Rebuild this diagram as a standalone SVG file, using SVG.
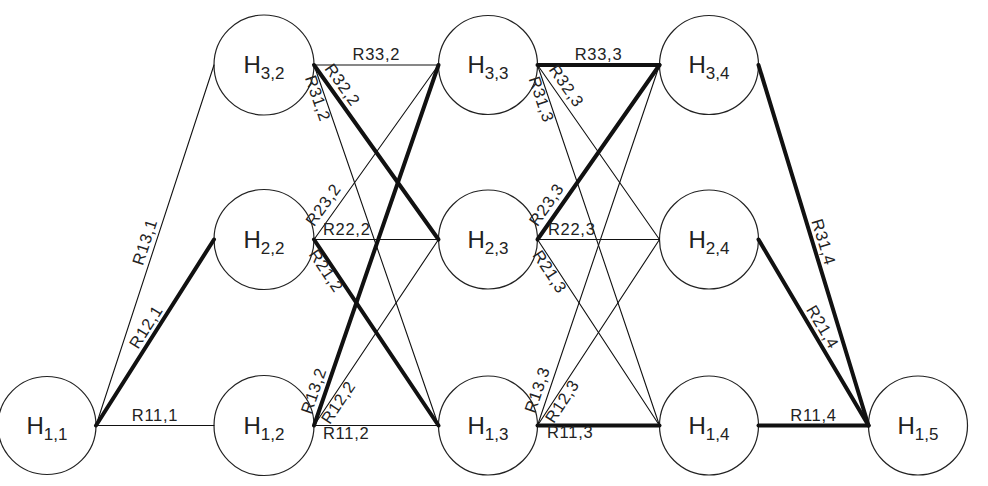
<svg xmlns="http://www.w3.org/2000/svg" width="988" height="486" viewBox="0 0 988 486">
<style>
.node circle{fill:#fff;stroke:#222;stroke-width:1.2}
.nl{font-family:"Liberation Sans",Arial,sans-serif;font-size:24px;fill:#222;text-anchor:middle}
.sub{font-size:17px}
.e{stroke:#111;stroke-width:1.1;fill:none;stroke-linecap:round}
.t{stroke-width:4}
.el{font-family:"Liberation Sans",Arial,sans-serif;font-size:16.5px;letter-spacing:0.7px;fill:#222}
.m{text-anchor:middle}
</style>
<rect width="988" height="486" fill="#fff"/>
<g id="nodes">
<g id="H11" class="node"><circle cx="47" cy="425.5" r="49"/><text class="nl" x="47" y="433.5">H<tspan class="sub" dy="6">1,1</tspan></text></g>
<g id="H12" class="node"><circle cx="264" cy="425.5" r="50"/><text class="nl" x="264" y="433.5">H<tspan class="sub" dy="6">1,2</tspan></text></g>
<g id="H22" class="node"><circle cx="264" cy="239.5" r="50"/><text class="nl" x="264" y="247.5">H<tspan class="sub" dy="6">2,2</tspan></text></g>
<g id="H32" class="node"><circle cx="264" cy="65" r="50"/><text class="nl" x="264" y="73">H<tspan class="sub" dy="6">3,2</tspan></text></g>
<g id="H13" class="node"><circle cx="488" cy="425.5" r="49.5"/><text class="nl" x="488" y="433.5">H<tspan class="sub" dy="6">1,3</tspan></text></g>
<g id="H23" class="node"><circle cx="488" cy="239.5" r="49.5"/><text class="nl" x="488" y="247.5">H<tspan class="sub" dy="6">2,3</tspan></text></g>
<g id="H33" class="node"><circle cx="488" cy="65" r="49.5"/><text class="nl" x="488" y="73">H<tspan class="sub" dy="6">3,3</tspan></text></g>
<g id="H14" class="node"><circle cx="709" cy="425.5" r="49.5"/><text class="nl" x="709" y="433.5">H<tspan class="sub" dy="6">1,4</tspan></text></g>
<g id="H24" class="node"><circle cx="709" cy="239.5" r="49.5"/><text class="nl" x="709" y="247.5">H<tspan class="sub" dy="6">2,4</tspan></text></g>
<g id="H34" class="node"><circle cx="709" cy="65" r="49.5"/><text class="nl" x="709" y="73">H<tspan class="sub" dy="6">3,4</tspan></text></g>
<g id="H15" class="node"><circle cx="918" cy="425.5" r="49.5"/><text class="nl" x="918" y="433.5">H<tspan class="sub" dy="6">1,5</tspan></text></g>
</g>
<g id="connectors">
<line class="e" x1="96" y1="425.5" x2="214" y2="425.5"/>
<line class="e t" x1="96" y1="425.5" x2="214" y2="239.5"/>
<line class="e" x1="96" y1="425.5" x2="214" y2="65"/>
<text class="el m" x="155" y="421">R11,1</text>
<text class="el m" transform="translate(96,425.5) rotate(-57.61)" x="110.1" y="-5">R12,1</text>
<text class="el m" transform="translate(96,425.5) rotate(-71.88)" x="189.7" y="-5">R13,1</text>

<line class="e" x1="314" y1="65" x2="438.5" y2="65"/>
<line class="e t" x1="314" y1="65" x2="438.5" y2="239.5"/>
<line class="e" x1="314" y1="65" x2="438.5" y2="425.5"/>
<line class="e" x1="314" y1="239.5" x2="438.5" y2="65"/>
<line class="e" x1="314" y1="239.5" x2="438.5" y2="239.5"/>
<line class="e t" x1="314" y1="239.5" x2="438.5" y2="425.5"/>
<line class="e t" x1="314" y1="425.5" x2="438.5" y2="65"/>
<line class="e" x1="314" y1="425.5" x2="438.5" y2="239.5"/>
<line class="e" x1="314" y1="425.5" x2="438.5" y2="425.5"/>
<text class="el m" x="376.3" y="60">R33,2</text>
<text class="el" transform="translate(314,65) rotate(54.49)" x="9" y="-6">R32,2</text>
<text class="el" transform="translate(314,65) rotate(70.95)" x="9" y="13">R31,2</text>
<text class="el" transform="translate(314,239.5) rotate(-54.49)" x="10" y="-7">R23,2</text>
<text class="el" x="323" y="235">R22,2</text>
<text class="el" transform="translate(314,239.5) rotate(56.2)" x="9" y="13">R21,2</text>
<text class="el" transform="translate(314,425.5) rotate(-70.95)" x="9" y="-6">R13,2</text>
<text class="el" transform="translate(314,425.5) rotate(-56.2)" x="9" y="13">R12,2</text>
<text class="el" x="323" y="438.5">R11,2</text>

<line class="e t" x1="537.5" y1="65" x2="659.5" y2="65"/>
<line class="e" x1="537.5" y1="65" x2="659.5" y2="239.5"/>
<line class="e" x1="537.5" y1="65" x2="659.5" y2="425.5"/>
<line class="e t" x1="537.5" y1="239.5" x2="659.5" y2="65"/>
<line class="e" x1="537.5" y1="239.5" x2="659.5" y2="239.5"/>
<line class="e" x1="537.5" y1="239.5" x2="659.5" y2="425.5"/>
<line class="e" x1="537.5" y1="425.5" x2="659.5" y2="65"/>
<line class="e" x1="537.5" y1="425.5" x2="659.5" y2="239.5"/>
<line class="e t" x1="537.5" y1="425.5" x2="659.5" y2="425.5"/>
<text class="el m" x="598.5" y="60">R33,3</text>
<text class="el" transform="translate(537.5,65) rotate(55.04)" x="10" y="-6">R32,3</text>
<text class="el" transform="translate(537.5,65) rotate(71.31)" x="10" y="13">R31,3</text>
<text class="el" transform="translate(537.5,239.5) rotate(-55.04)" x="10" y="-7">R23,3</text>
<text class="el" x="548" y="235">R22,3</text>
<text class="el" transform="translate(537.5,239.5) rotate(56.73)" x="10" y="13">R21,3</text>
<text class="el" transform="translate(537.5,425.5) rotate(-71.31)" x="10" y="-6">R13,3</text>
<text class="el" transform="translate(537.5,425.5) rotate(-56.73)" x="10" y="13">R12,3</text>
<text class="el" x="547" y="438">R11,3</text>

<line class="e t" x1="758.5" y1="425.5" x2="868.5" y2="425.5"/>
<line class="e t" x1="758.5" y1="239.5" x2="868.5" y2="425.5"/>
<line class="e t" x1="758.5" y1="65" x2="868.5" y2="425.5"/>
<text class="el m" x="813.5" y="421">R11,4</text>
<text class="el m" transform="translate(758.5,239.5) rotate(59.4)" x="108" y="-5">R21,4</text>
<text class="el m" transform="translate(758.5,65) rotate(73.03)" x="188.5" y="-5">R31,4</text>
</g>
</svg>
